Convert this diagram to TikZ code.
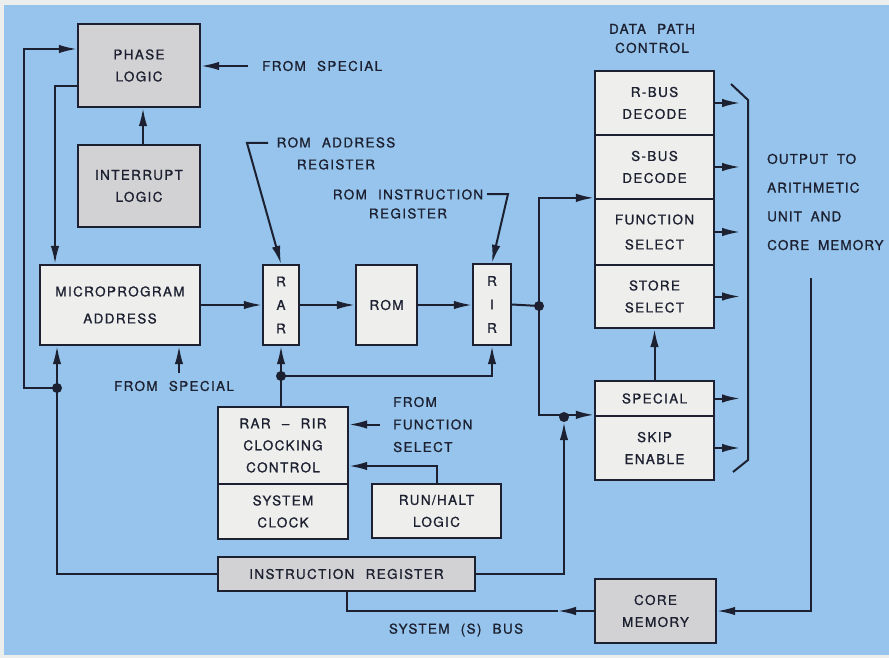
\documentclass[tikz,border=0pt]{standalone}
\usepackage{fontspec}
\newfontfamily\lbl[LetterSpace=10, WordSpace=2.2, FakeBold=1]{TeX Gyre Heros}
\newfontfamily\lblout[LetterSpace=8, WordSpace=1.8, FakeBold=1]{TeX Gyre Heros}
\usetikzlibrary{arrows.meta}
\definecolor{bg}{RGB}{150,196,236}
\definecolor{paper}{RGB}{236,238,238}
\definecolor{boxw}{RGB}{238,238,236}
\definecolor{boxg}{RGB}{210,210,212}
\definecolor{ink}{RGB}{28,32,48}
\begin{document}
\begin{tikzpicture}[x=1pt,y=-1pt,
 every node/.style={font=\lbl\fontsize{13.5}{22}\selectfont, text=ink, align=center},
 wbox/.style={draw=ink, line width=2.3pt, fill=boxw, inner sep=0pt},
 gbox/.style={wbox, fill=boxg},
 arr/.style={draw=ink, line width=2pt, -{Latex[length=18pt,width=8.5pt]}},
 ln/.style={draw=ink, line width=2pt},
 dot/.style={circle, fill=ink, inner sep=0pt, minimum size=10pt},
 lab/.style={inner sep=0pt}]
\useasboundingbox (0,0) rectangle (889,658);
\fill[paper] (0,0) rectangle (889,658);
\fill[bg] (4,5) rectangle (889,655);

% boxes
\node[gbox, minimum width=122pt, minimum height=83pt] (phase) at (139,65.5) {PHASE\\LOGIC};
\node[gbox, minimum width=122pt, minimum height=82pt] (intr) at (139,186) {INTERRUPT\\LOGIC};
\node[wbox, minimum width=160pt, minimum height=80pt, font=\lbl\fontsize{13.5}{27}\selectfont] (micro) at (120,305) {MICROPROGRAM\\ADDRESS};
\node[wbox, minimum width=36pt, minimum height=80pt, font=\lbl\fontsize{13.5}{23.5}\selectfont] (rar) at (281,305) {R\\A\\R};
\node[wbox, minimum width=61pt, minimum height=80pt] (rom) at (386.5,305) {ROM};
\node[wbox, minimum width=38pt, minimum height=81pt, font=\lbl\fontsize{13.5}{23.5}\selectfont] (rir) at (492,304.5) {R\\I\\R};
\node[wbox, minimum width=119pt, minimum height=64pt] (rbus) at (654.5,103) {R-BUS\\DECODE};
\node[wbox, minimum width=119pt, minimum height=64pt] (sbus) at (654.5,167) {S-BUS\\DECODE};
\node[wbox, minimum width=119pt, minimum height=66pt, font=\lbl\fontsize{13.5}{25}\selectfont] (fsel) at (654.5,232) {FUNCTION\\SELECT};
\node[wbox, minimum width=119pt, minimum height=63pt] (ssel) at (654.5,296.5) {STORE\\SELECT};
\node[wbox, minimum width=119pt, minimum height=35pt] (special) at (654.5,398.5) {SPECIAL};
\node[wbox, minimum width=119pt, minimum height=64pt] (skip) at (654.5,448) {SKIP\\ENABLE};
\node[wbox, minimum width=130pt, minimum height=77pt] (clk) at (283,445.5) {RAR – RIR\\CLOCKING\\CONTROL};
\node[wbox, minimum width=130pt, minimum height=55pt] (sysclk) at (283,511.5) {SYSTEM\\CLOCK};
\node[wbox, minimum width=129pt, minimum height=54pt] (rh) at (436.5,511) {RUN/HALT\\LOGIC};
\node[gbox, minimum width=257pt, minimum height=34pt] (ir) at (346.5,574) {INSTRUCTION REGISTER};
\node[gbox, minimum width=121pt, minimum height=64pt] (core) at (655.5,611) {CORE\\MEMORY};

% labels
\node[lab, anchor=west] (fs1) at (262,66) {FROM SPECIAL};
\node[lab] (ra) at (336,153.5) {ROM ADDRESS\\REGISTER};
\node[lab, font=\lbl\fontsize{13.5}{19}\selectfont] (ri) at (408,204) {ROM INSTRUCTION\\REGISTER};
\node[lab, font=\lbl\fontsize{13.5}{19}\selectfont] (dpc) at (652,38.5) {DATA PATH\\CONTROL};
\node[lab, anchor=west, align=left, font=\lblout\fontsize{13.5}{28.7}\selectfont] (out) at (767,202) {OUTPUT TO\\ARITHMETIC\\UNIT AND\\CORE MEMORY};
\node[lab] (fs2) at (174,386) {FROM SPECIAL};
\node[lab, anchor=west, align=left, font=\lbl\fontsize{13.5}{22.5}\selectfont] (ffs) at (393,424.5) {FROM\\FUNCTION\\SELECT};
\node[lab] (sbl) at (456,630) {SYSTEM (S) BUS};

% junction dots
\node[dot] (j1) at (57,388) {};
\node[dot] (j2) at (564,417) {};
\node[dot] (j3) at (539,306) {};
\node[dot] (j4) at (281,376) {};

% helper coordinates
\coordinate (lo2) at (24,49);
\coordinate (l55) at (55,0);
\coordinate (ra1) at (268,143);
\coordinate (ra2) at (247,143);
\coordinate (ri1) at (487,194);
\coordinate (ri2) at (508,194);
\coordinate (fsa) at (179,373);
\coordinate (bx) at (740,0);
\coordinate (rt) at (811,278);
\coordinate (cma) at (558,611);
\coordinate (y466) at (0,466);
\coordinate (y86) at (0,86);

% connectors
\draw[arr] ([xshift=4pt]intr.north) -- ([xshift=4pt]phase.south);
\draw[arr] ([xshift=-14pt]fs1.west) -- (phase.east |- fs1.west);
\draw[arr] (j1.center) -| (lo2) -- (phase.west |- lo2);
\draw[arr] (phase.west |- y86) -| (micro.north -| l55);
\draw[arr] (ir.west) -| (micro.south -| j1);
\draw[arr] (ir.east) -| (j2.south);
\draw[arr] (micro.east) -- (rar.west);
\draw[arr] (rar.east) -- (rom.west);
\draw[arr] (rom.east) -- (rom.east -| rir.west);
\draw[ln] (rir.east) -- (j3.center);
\draw[arr] (j3.center) |- (fsel.north west);
\draw[arr] (j3.center) |- (skip.north west);
\draw[arr] (clk.north -| rar) -- (rar.south);
\draw[arr] (j4.center) -| (rir.south);
\draw[arr] ([xshift=-13pt]ffs.west) -- (clk.east |- ffs.west);
\draw[arr] (rh.north) |- (clk.east |- y466);
\draw[arr] (fsa) -- (micro.south -| fsa);
\draw[arr] (ra1) -- (ra2) -- (rar.north);
\draw[arr] (ri1) -- (ri2) -- (rir.north);
\draw[arr] (special.north) -- (ssel.south);
\foreach \n in {rbus,sbus,fsel,ssel,special,skip}
  \draw[arr] (\n.east) -- (\n.east -| bx);
\draw[ln] (731,84) -- (748,100) -- (748,460) -- (733,472);
\draw[arr] (rt) |- (core.east);
\draw[arr] (core.west) -- (cma);
\draw[ln] (cma) -| (ir.south);
\end{tikzpicture}
\end{document}
